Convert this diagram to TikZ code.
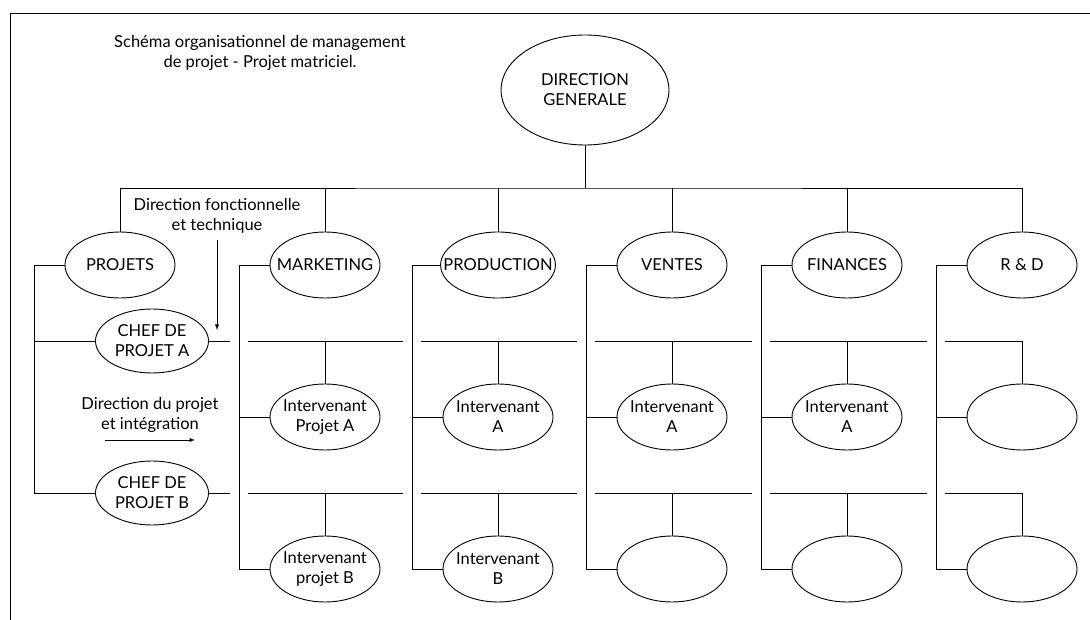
\documentclass[tikz,border=0pt]{standalone}
\usepackage{fontspec}
\setmainfont{Lato}
\usetikzlibrary{positioning,shapes.geometric}
\tikzset{
ell/.style={draw, ellipse, minimum width=110pt, minimum height=66pt, inner xsep=-14pt, inner ysep=0pt, align=center, font=\fontsize{16.5}{20}\selectfont},
lbl/.style={align=center, font=\fontsize{16.5}{20}\selectfont}
}
\begin{document}
\begin{tikzpicture}[x=1pt, y=-1pt, line width=0.9pt, node distance=152pt, on grid]
\useasboundingbox (0,0) rectangle (1090,620);
\draw (10,620) -- (10,13) -- (1090,13);
\node[lbl] (t0) at (260,53) {Schéma organisationnel de management\\de projet - Projet matriciel.};
\node[ell, minimum width=168pt, minimum height=110pt] (dg) at (585,90) {DIRECTION\\GENERALE};
\node[ell] (p) at (120,265) {PROJETS};
\node[ell, right=205pt of p] (m) {MARKETING};
\node[ell, right=173pt of m] (pr) {PRODUCTION};
\node[ell, right=174pt of pr] (v) {VENTES};
\node[ell, right=175pt of v] (f) {FINANCES};
\node[ell, right=175pt of f] (r) {R \& D};
\node[ell, minimum width=113pt, minimum height=64pt] (c1) at (152,341) {CHEF DE\\PROJET A};
\node[ell, minimum width=113pt, minimum height=64pt, below=of c1] (c2) {CHEF DE\\PROJET B};
\node[ell, below=of m] (m1) {Intervenant\\Projet A};
\node[ell, below=of m1] (m2) {Intervenant\\projet B};
\node[ell, below=of pr] (pr1) {Intervenant\\A};
\node[ell, below=of pr1] (pr2) {Intervenant\\B};
\node[ell, below=of v] (v1) {Intervenant\\A};
\node[ell, below=of v1] (v2) {};
\node[ell, below=of f] (f1) {Intervenant\\A};
\node[ell, below=of f1] (f2) {};
\node[ell, below=of r] (r1) {};
\node[ell, below=of r1] (r2) {};
\node[lbl] (t1) at (217,216) {Direction fonctionnelle\\et technique};
\node[lbl] (t2) at (150,415) {Direction du projet\\et intégration};
\coordinate[below=25pt of t2] (a2);
\coordinate (bus) at (585,188);
\coordinate[left=86pt of p] (cp);
\coordinate[left=86pt of m] (cm);
\coordinate[left=86pt of pr] (cpr);
\coordinate[left=86pt of v] (cv);
\coordinate[left=86pt of f] (cf);
\coordinate[left=86pt of r] (cr);
\draw (dg) -- (bus);
\draw (p) |- (bus) -| (r);
\draw (m) -- (m |- bus);
\draw (pr) -- (pr |- bus);
\draw (v) -- (v |- bus);
\draw (f) -- (f |- bus);
\draw (p) -- (cp) |- (c2);
\draw (cp |- c1) -- (c1);
\draw (m) -- (cm) |- (m2);
\draw (cm |- m1) -- (m1);
\draw (pr) -- (cpr) |- (pr2);
\draw (cpr |- pr1) -- (pr1);
\draw (v) -- (cv) |- (v2);
\draw (cv |- v1) -- (v1);
\draw (f) -- (cf) |- (f2);
\draw (cf |- f1) -- (f1);
\draw (r) -- (cr) |- (r2);
\draw (cr |- r1) -- (r1);
\draw (c1) -- ([xshift=-9pt]cm |- c1);
\draw ([xshift=9pt]cm |- c1) -- ([xshift=-9pt]cpr |- c1);
\draw ([xshift=9pt]cpr |- c1) -- ([xshift=-9pt]cv |- c1);
\draw ([xshift=9pt]cv |- c1) -- ([xshift=-9pt]cf |- c1);
\draw ([xshift=9pt]cf |- c1) -- ([xshift=-9pt]cr |- c1);
\draw ([xshift=9pt]cr |- c1) -| (r1);
\draw (m1) -- (m1 |- c1);
\draw (pr1) -- (pr1 |- c1);
\draw (v1) -- (v1 |- c1);
\draw (f1) -- (f1 |- c1);
\draw (c2) -- ([xshift=-9pt]cm |- c2);
\draw ([xshift=9pt]cm |- c2) -- ([xshift=-9pt]cpr |- c2);
\draw ([xshift=9pt]cpr |- c2) -- ([xshift=-9pt]cv |- c2);
\draw ([xshift=9pt]cv |- c2) -- ([xshift=-9pt]cf |- c2);
\draw ([xshift=9pt]cf |- c2) -- ([xshift=-9pt]cr |- c2);
\draw ([xshift=9pt]cr |- c2) -| (r2);
\draw (m2) -- (m2 |- c2);
\draw (pr2) -- (pr2 |- c2);
\draw (v2) -- (v2 |- c2);
\draw (f2) -- (f2 |- c2);
\draw[-latex, shorten <=3pt, shorten >=11pt] (t1) -- (t1 |- c1);
\draw[-latex] ([xshift=-45pt]a2) -- ([xshift=45pt]a2);
\end{tikzpicture}
\end{document}
